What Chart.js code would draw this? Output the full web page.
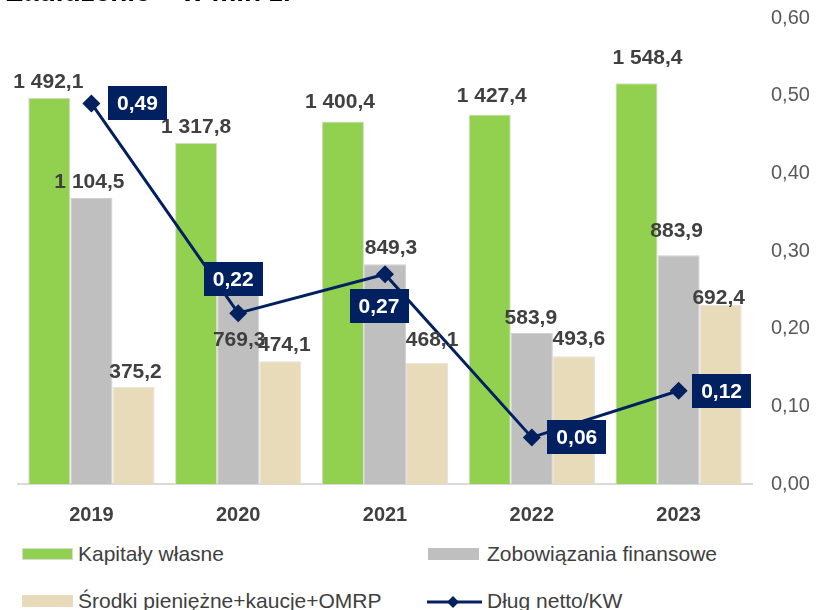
<!DOCTYPE html>
<html>
<head>
<meta charset="utf-8">
<script src="https://cdn.jsdelivr.net/npm/chart.js@4"></script>
<style>
  html, body { margin: 0; padding: 0; background: #fff; }
  body { width: 816px; height: 610px; position: relative; overflow: hidden; font-family: "Liberation Sans", Arial, sans-serif; }
  #title { position: absolute; left: 6px; top: -21px; font-size: 28px; line-height: 26px; font-weight: bold; color: #000; white-space: nowrap; z-index: 2; }
  #wrap { position: absolute; left: 0; top: -10px; width: 816px; height: 540px; }
  .leg { position: absolute; font-size: 21px; color: #404040; line-height: 24px; white-space: nowrap; }
  .sw { position: absolute; width: 51px; height: 12px; box-sizing: border-box; }
</style>
</head>
<body>
<div id="wrap"><canvas id="chart" width="816" height="540"></canvas></div>
<div id="title">Zadłużenie – w mln zł</div>

<div class="sw" style="left:22px;top:548px;background:#92d050;border:1px solid #d9d9d9"></div>
<div class="leg" style="left:78px;top:542px">Kapitały własne</div>
<div class="sw" style="left:428px;top:548px;background:#bfbfbf"></div>
<div class="leg" style="left:487px;top:542px">Zobowiązania finansowe</div>
<div class="sw" style="left:22px;top:595px;background:#e8dbb9"></div>
<div class="leg" style="left:78px;top:589px">Środki pieniężne+kaucje+OMRP</div>
<svg style="position:absolute;left:425px;top:594px" width="60" height="16">
  <line x1="2" y1="8" x2="57" y2="8" stroke="#002060" stroke-width="3"/>
  <polygon points="28,2 34,8 28,14 22,8" fill="#002060"/>
</svg>
<div class="leg" style="left:487px;top:589px">Dług netto/KW</div>

<script>
"use strict";

// ---------- Data ----------
const years = ["2019", "2020", "2021", "2022", "2023"];
const equity = [1492.1, 1317.8, 1400.4, 1427.4, 1548.4];
const liabilities = [1104.5, 769.3, 849.3, 583.9, 883.9];
const cash = [375.2, 474.1, 468.1, 493.6, 692.4];
const debtRatio = [0.49, 0.22, 0.27, 0.06, 0.12];
const ratioTicks = [0, 0.1, 0.2, 0.3, 0.4, 0.5, 0.6];

// label nudges (px) – the original had some labels hand-moved
const barLabelShift = [
  { dx: [-1, 0, -3, 2, 11], dy: [16, 16, 19, 18, 25] },
  { dx: [-2, 1, 6, -1, -2], dy: [16, -55, 16, 15, 24] },
  { dx: [2, 4, 5, 5, -2], dy: [15, 16, 23, 17, 7] },
];
const boxShift = { dx: [46, -5, -6, 45, 43], dy: [0, -34, 32, 0, 0] };

const FONT = "'Liberation Sans', Arial, sans-serif";
const NAVY = "#002060";

function fmtBar(v) {
  const [i, d] = v.toFixed(1).split(".");
  return i.replace(/\B(?=(\d{3})+(?!\d))/g, " ") + "," + d;
}
function fmtRatio(v) {
  return v.toFixed(2).replace(".", ",");
}

// ---------- Labels plugin ----------
const labelPlugin = {
  id: "labels",
  afterDatasetsDraw(chart) {
    const ctx = chart.ctx;
    ctx.save();
    ctx.textAlign = "center";
    ctx.textBaseline = "middle";

    ctx.font = `bold 21px ${FONT}`;
    ctx.fillStyle = "#404040";
    [0, 1, 2].forEach((di) => {
      const meta = chart.getDatasetMeta(di);
      const vals = chart.data.datasets[di].data;
      meta.data.forEach((bar, j) => {
        const s = barLabelShift[di];
        ctx.fillText(fmtBar(vals[j]), bar.x + s.dx[j], bar.y - s.dy[j]);
      });
    });

    const lineMeta = chart.getDatasetMeta(3);
    lineMeta.data.forEach((pt, j) => {
      const cx = pt.x + boxShift.dx[j];
      const cy = pt.y + boxShift.dy[j];
      const w = 59, h = 34;
      ctx.fillStyle = NAVY;
      ctx.fillRect(Math.round(cx - w / 2), Math.round(cy - h / 2), w, h);
      ctx.fillStyle = "#fff";
      ctx.fillText(fmtRatio(debtRatio[j]), cx, cy + 1);
    });
    ctx.restore();
  },
};

// ---------- Chart ----------
new Chart(document.getElementById("chart"), {
  type: "bar",
  data: {
    labels: years,
    datasets: [
      { label: "Kapitały własne", data: equity, backgroundColor: "#92d050", borderColor: "#d9d9d9", borderWidth: 1, yAxisID: "y", order: 1 },
      { label: "Zobowiązania finansowe", data: liabilities, backgroundColor: "#bfbfbf", borderColor: "#d0d0d0", borderWidth: 1, yAxisID: "y", order: 1 },
      { label: "Środki pieniężne+kaucje+OMRP", data: cash, backgroundColor: "#e8dbb9", borderColor: "#e0e0e0", borderWidth: 1, yAxisID: "y", order: 1 },
      {
        type: "line", label: "Dług netto/KW", data: debtRatio, yAxisID: "y1", order: 0,
        borderColor: NAVY, backgroundColor: NAVY, borderWidth: 3, tension: 0,
        pointStyle: "rectRot", pointRadius: 9, pointBackgroundColor: NAVY, pointBorderWidth: 0,
      },
    ],
  },
  options: {
    responsive: false,
    animation: false,
    devicePixelRatio: 1,
    layout: { padding: { left: 18, top: 28, right: 0, bottom: 0 } },
    datasets: { bar: { categoryPercentage: 0.86, barPercentage: 1.0 } },
    plugins: { legend: { display: false }, tooltip: { enabled: false } },
    scales: {
      x: {
        grid: { display: false },
        border: { display: true, color: "#d9d9d9", width: 2 },
        ticks: { color: "#404040", font: { family: FONT, size: 20, weight: "bold" }, padding: 11 },
        afterFit: (s) => { s.height = 46; },
      },
      y: { display: false, min: 0, max: 1800 },
      y1: {
        position: "right",
        min: 0,
        max: 0.6,
        afterBuildTicks: (s) => { s.ticks = ratioTicks.map((v) => ({ value: v })); },
        grid: { display: false },
        border: { display: false },
        ticks: { color: "#595959", font: { family: FONT, size: 20 }, padding: 11, callback: (v) => fmtRatio(v) },
        afterFit: (s) => { s.width = 64; },
      },
    },
  },
  plugins: [labelPlugin],
});
</script>
</body>
</html>
